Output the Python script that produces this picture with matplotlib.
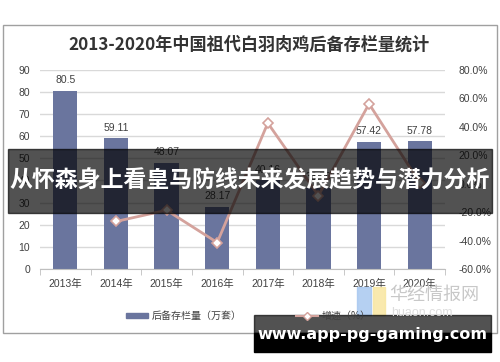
import matplotlib.pyplot as plt
from matplotlib.patches import Rectangle
from matplotlib.lines import Line2D

plt.rcParams['font.family'] = ['Liberation Sans', 'Noto Sans CJK SC', 'DejaVu Sans']

# data
years = ['2013年', '2014年', '2015年', '2016年', '2017年', '2018年', '2019年', '2020年']
stock = [80.5, 59.11, 48.07, 28.17, 40.16, 36.79, 57.42, 57.78]   # 万套
growth = [None, -26.6, -18.7, -41.4, 42.6, -8.4, 56.1, 0.6]       # %

bar_color = '#6a759e'
line_color = '#d4a29c'
text_color = '#404040'

fig = plt.figure(figsize=(5.0, 3.62), dpi=100)

# outer frame of the chart
frame = fig.add_axes([0, 0, 1, 1], zorder=0)
frame.set_xlim(0, 500)
frame.set_ylim(362, 0)
frame.axis('off')
frame.add_patch(Rectangle((3, 25), 494, 308, fill=False, edgecolor='#a0a0a0', lw=1))
frame.text(249, 45, '2013-2020年中国祖代白羽肉鸡后备存栏量统计', ha='center', va='center',
           fontsize=12.3, fontweight='bold', color='#333333',
           family=['Noto Sans CJK SC', 'DejaVu Sans'])

ax = fig.add_axes([0.08, 0.257, 0.81, 0.550], zorder=1)
ax.patch.set_alpha(0)
x = list(range(len(years)))
ax.bar(x, stock, width=0.48, color=bar_color, zorder=2)
for xi, v in zip(x, stock):
    ax.text(xi, v + 2.5, f'{v:g}', ha='center', va='bottom', fontsize=7.5, color=text_color)
ax.set_ylim(0, 90)
ax.set_yticks(range(0, 91, 10))
ax.set_xlim(-0.5, len(years) - 0.5)
ax.set_xticks(x)
ax.set_xticklabels(years, fontsize=7.5, color=text_color,
                   family=['Liberation Sans', 'Noto Sans CJK SC'])
ax.set_xticks([i + 0.5 for i in range(-1, len(years))], minor=True)
ax.tick_params(axis='x', which='major', length=0, pad=7)
ax.tick_params(axis='x', which='minor', length=4, color='#bfbfbf')
ax.tick_params(axis='y', length=0, labelsize=7.5, labelcolor=text_color, pad=7)
ax.grid(axis='y', color='#d9d9d9', lw=1, zorder=0)
for s in ['top', 'right', 'left']:
    ax.spines[s].set_visible(False)
ax.spines['bottom'].set_color('#bfbfbf')

ax2 = ax.twinx()
gx = [xi for xi, g in zip(x, growth) if g is not None]
gy = [g for g in growth if g is not None]
ax2.plot(gx, gy, color=line_color, lw=2, marker='D', markersize=5,
         markerfacecolor='white', markeredgecolor=line_color, markeredgewidth=1.2, zorder=3)
ax2.set_ylim(-60, 80)
ax2.set_yticks(range(-60, 81, 20))
ax2.set_yticklabels([f'{t:.1f}%' for t in range(-60, 81, 20)])
ax2.tick_params(axis='y', length=0, labelsize=7.5, labelcolor=text_color, pad=10)
for s in ['top', 'right', 'left', 'bottom']:
    ax2.spines[s].set_visible(False)

handles = [Rectangle((0, 0), 1, 1, color=bar_color),
           Line2D([0], [0], color=line_color, lw=1.5, marker='D', markersize=4,
                  markerfacecolor='white', markeredgecolor=line_color)]
fig.legend(handles, ['后备存栏量（万套）', '增速（%）'], loc='center', ncol=2,
           bbox_to_anchor=(0.497, 0.127), frameon=False, handlelength=2.2, handleheight=0.5,
           handletextpad=0.3, columnspacing=5.5,
           prop={'family': ['Noto Sans CJK SC'], 'size': 7.2},
           labelcolor=text_color)

# overlays drawn in pixel coordinates
ov = fig.add_axes([0, 0, 1, 1], zorder=5)
ov.set_xlim(0, 500)
ov.set_ylim(362, 0)
ov.axis('off')
# huaon logo
ov.add_patch(Rectangle((357, 287), 14, 28, color='#a8c8f0', alpha=0.85))
ov.add_patch(Rectangle((373, 287), 12, 28, color='#f8e6a0', alpha=0.85))
ov.text(389, 295, '华经情报网', ha='left', va='center', fontsize=13, color='#c8c8c8',
        family=['Noto Sans CJK SC'])
ov.text(391, 313, 'huaon.com', ha='left', va='center', fontsize=9, color='#dddddd')
# banner
ov.add_patch(Rectangle((8, 149), 484, 64, color='black', alpha=0.68))
ov.text(250, 181, '从怀森身上看皇马防线未来发展趋势与潜力分析', ha='center', va='center',
        fontsize=16.5, fontweight='bold', color='white', family=['Noto Sans CJK SC'])
# site watermark
ov.add_patch(Rectangle((254, 315), 237, 18, color='black', alpha=0.68))
ov.add_patch(Rectangle((254, 333), 237, 19, color='black'))
ov.text(372, 334, 'www.app-pg-gaming.com', ha='center', va='center',
        fontsize=11.5, fontweight='bold', color='white', family=['DejaVu Sans'])

fig.savefig('out.png', dpi=100)
